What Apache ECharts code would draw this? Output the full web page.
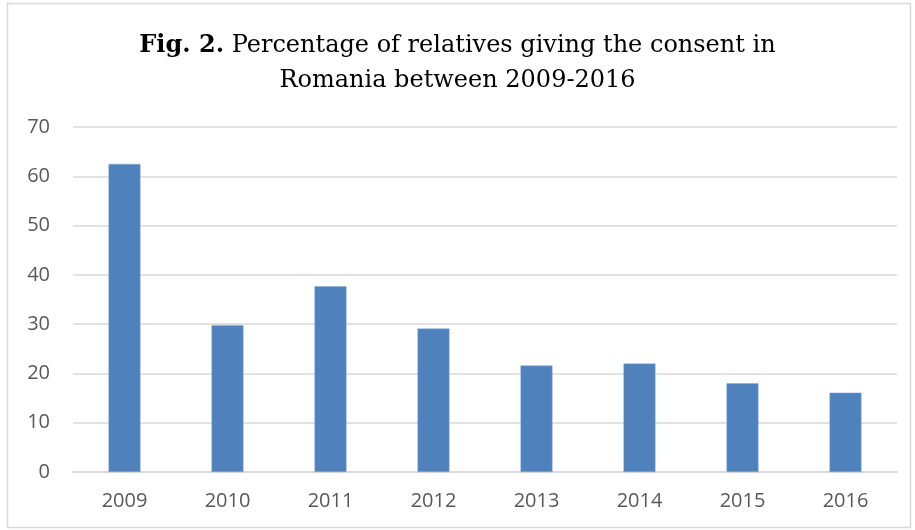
<!DOCTYPE html>
<html>
<head>
<meta charset="utf-8">
<script src="https://cdn.jsdelivr.net/npm/echarts@6/dist/echarts.min.js"></script>
<style>
  html, body { margin: 0; padding: 0; background: #fff; }
  #chart { width: 915px; height: 530px; }
</style>
</head>
<body>
<div id="chart"></div>
<script>
var years = ['2009', '2010', '2011', '2012', '2013', '2014', '2015', '2016'];
var consent = [62.5, 29.8, 37.7, 29.1, 21.6, 22.0, 18.0, 16.1];
var yTicks = [0, 10, 20, 30, 40, 50, 60, 70];

var myChart = echarts.init(document.getElementById('chart'));
var colors = ['#4f81bd', '#595959', '#d9d9d9']; // bar blue, label grey, grid grey

var option = {
    animation: false,
    backgroundColor: '#fff',
    graphic: [{
        type: 'rect',
        shape: { x: 7.5, y: 3.5, width: 903, height: 524 },
        style: { fill: 'none', stroke: '#d9d9d9', lineWidth: 1.5 },
        silent: true
    }],
    title: {
        text: '{b|Fig. 2.} Percentage of relatives giving the consent in\nRomania between 2009-2016',
        left: 'center',
        top: 23,
        textStyle: {
            fontFamily: 'DejaVu Serif',
            fontSize: 24,
            fontWeight: 'normal',
            color: '#000',
            lineHeight: 35,
            rich: {
                b: { fontFamily: 'DejaVu Serif', fontSize: 24, fontWeight: 'bold', color: '#000', lineHeight: 35 }
            }
        }
    },
    grid: {
        left: 73,
        right: 18,
        top: 127,
        bottom: 58,
        containLabel: false
    },
    xAxis: {
        type: 'category',
        data: years,
        axisTick: { show: false },
        axisLine: { lineStyle: { color: colors[2], width: 1.5 } },
        axisLabel: {
            color: colors[1],
            fontFamily: 'Open Sans',
            fontSize: 20,
            margin: 19
        }
    },
    yAxis: {
        type: 'value',
        min: yTicks[0],
        max: yTicks[yTicks.length - 1],
        interval: 10,
        axisLine: { show: false },
        axisTick: { show: false },
        splitLine: { lineStyle: { color: colors[2], width: 1.5 } },
        axisLabel: {
            color: colors[1],
            fontFamily: 'Open Sans',
            fontSize: 20,
            margin: 23
        }
    },
    series: [{
        type: 'bar',
        data: consent,
        barWidth: '31%',
        itemStyle: {
            color: colors[0],
            borderColor: '#7ea6d8',
            borderWidth: 0.5
        }
    }]
};
myChart.setOption(option);
</script>
</body>
</html>
